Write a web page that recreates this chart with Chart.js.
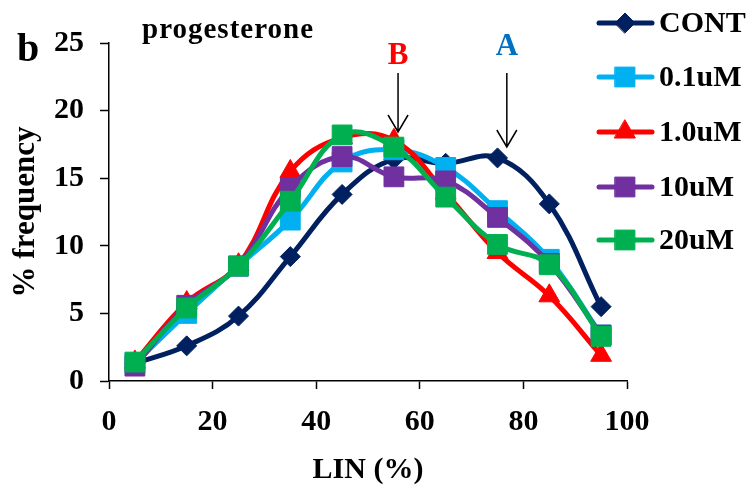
<!DOCTYPE html>
<html>
<head>
<meta charset="utf-8">
<script src="https://cdn.jsdelivr.net/npm/chart.js@4.4.1/dist/chart.umd.min.js"></script>
<style>
html,body{margin:0;padding:0;background:#fff;}
#wrap{width:754px;height:488px;}
</style>
</head>
<body>
<div id="wrap"><canvas id="c" width="754" height="488"></canvas></div>
<script>
// ---- data ----
const lin = [5, 15, 25, 35, 45, 55, 65, 75, 85, 95];
const cont  = [1.3, 2.6, 4.8, 9.2, 13.8, 16.4, 16.1, 16.5, 13.1, 5.5];
const uM01  = [1.3, 5.0, 8.5, 11.9, 16.2, 17.1, 15.8, 12.6, 9.0, 3.4];
const uM1   = [1.4, 5.8, 8.6, 15.5, 18.0, 17.8, 13.9, 9.5, 6.3, 1.9];
const uM10  = [1.1, 5.6, 8.5, 14.3, 16.6, 15.1, 14.8, 12.1, 8.7, 3.4];
const uM20  = [1.4, 5.4, 8.5, 13.3, 18.2, 17.3, 13.6, 10.1, 8.6, 3.3];
const seriesNames = ['CONT', '0.1uM', '1.0uM', '10uM', '20uM'];
const xTicks = [0, 20, 40, 60, 80, 100];
const yTicks = [0, 5, 10, 15, 20, 25];

const FONT = '"Liberation Serif", "Times New Roman", serif';
const colors = ['#002060', '#00B0F0', '#FF0000', '#7030A0', '#00B050'];
const styles = ['rectRot', 'rect', 'triangle', 'rect', 'rect'];
const radii = [10, 14, 12, 14, 14];
const allSeries = [cont, uM01, uM1, uM10, uM20];

const datasets = allSeries.map((vals, i) => ({
  label: seriesNames[i],
  data: lin.map((x, j) => ({x: x, y: vals[j]})),
  borderColor: colors[i],
  backgroundColor: colors[i],
  borderWidth: 5,
  tension: 0.4,
  pointStyle: styles[i],
  pointRadius: radii[i],
  pointBorderWidth: 1,
  pointBorderColor: colors[i],
  pointBackgroundColor: colors[i],
  order: 4 - i,
  clip: false
}));

const legendPlugin = {
  id: 'customLegend',
  afterDraw(chart) {
    const ctx = chart.ctx;
    const rows = [23, 77, 132, 187, 240];
    ctx.save();
    chart.data.datasets.forEach((ds, i) => {
      const y = rows[i];
      ctx.beginPath();
      ctx.strokeStyle = ds.borderColor;
      ctx.lineWidth = 5;
      ctx.lineCap = 'round';
      ctx.moveTo(599, y);
      ctx.lineTo(652, y);
      ctx.stroke();
      ctx.fillStyle = ds.backgroundColor;
      ctx.strokeStyle = ds.borderColor;
      ctx.lineWidth = 1;
      Chart.helpers.drawPoint(ctx, {pointStyle: ds.pointStyle, radius: ds.pointRadius, rotation: 0, borderWidth: 1}, 625, y);
      ctx.fillStyle = '#000';
      ctx.font = 'bold 30px ' + FONT;
      ctx.textAlign = 'left';
      ctx.textBaseline = 'middle';
      ctx.fillText(ds.label, 659, y + 1);
    });
    ctx.restore();
  }
};

function arrow(ctx, x, y0, y1) {
  ctx.beginPath();
  ctx.moveTo(x, y0);
  ctx.lineTo(x, y1);
  ctx.moveTo(x - 10, y1 - 17);
  ctx.lineTo(x, y1);
  ctx.lineTo(x + 10, y1 - 17);
  ctx.stroke();
}

const notesPlugin = {
  id: 'notes',
  afterDraw(chart) {
    const ctx = chart.ctx;
    const xs = chart.scales.x;
    ctx.save();
    ctx.fillStyle = '#000';
    ctx.textBaseline = 'alphabetic';
    ctx.textAlign = 'left';
    ctx.font = 'bold 40px ' + FONT;
    ctx.fillText('b', 17, 61);
    ctx.font = 'bold 29px ' + FONT;
    try { ctx.letterSpacing = '1px'; } catch (e) {}
    ctx.fillText('progesterone', 142, 38);
    try { ctx.letterSpacing = '0px'; } catch (e) {}
    ctx.textAlign = 'center';
    ctx.textBaseline = 'middle';
    ctx.font = 'bold 31px ' + FONT;
    const bx = xs.getPixelForValue(55.8);
    const ax = xs.getPixelForValue(76.8);
    ctx.fillStyle = '#FF0000';
    ctx.fillText('B', bx, 56);
    ctx.fillStyle = '#0070C0';
    ctx.fillText('A', ax, 47);
    ctx.strokeStyle = '#000';
    ctx.lineWidth = 1.5;
    arrow(ctx, bx, 73, 132);
    arrow(ctx, ax, 73, 147);
    ctx.restore();
  }
};

new Chart(document.getElementById('c'), {
  type: 'line',
  data: {datasets: datasets},
  plugins: [legendPlugin, notesPlugin],
  options: {
    responsive: false,
    animation: false,
    devicePixelRatio: 1,
    layout: {padding: {left: 0, top: 43, right: 127, bottom: 0}},
    plugins: {legend: {display: false}, tooltip: {enabled: false}, title: {display: false}},
    scales: {
      x: {
        type: 'linear',
        min: 0, max: 100,
        afterFit(s) { s.height = 107; },
        afterBuildTicks(s) { s.ticks = xTicks.map(v => ({value: v})); },
        border: {display: true, color: '#000', width: 1.5},
        grid: {display: true, drawOnChartArea: false, drawTicks: true, tickLength: 8, tickColor: '#000', tickWidth: 1.5},
        ticks: {color: '#000', font: {family: FONT, size: 30, weight: 'bold'}, padding: 15, maxRotation: 0},
        title: {display: true, text: 'LIN (%)', color: '#000', font: {family: FONT, size: 30, weight: 'bold'}, padding: {top: 0, bottom: 0}}
      },
      y: {
        type: 'linear',
        min: 0, max: 25,
        afterFit(s) { s.width = 109; },
        afterBuildTicks(s) { s.ticks = yTicks.map(v => ({value: v})); },
        border: {display: true, color: '#000', width: 1.5},
        grid: {display: true, drawOnChartArea: false, drawTicks: true, tickLength: 9, tickColor: '#000', tickWidth: 1.5},
        ticks: {color: '#000', font: {family: FONT, size: 30, weight: 'bold'}, padding: 16},
        title: {display: true, text: '% frequency', color: '#000', font: {family: FONT, size: 31, weight: 'bold'}, padding: {top: 7, bottom: 0}}
      }
    }
  }
});
</script>
</body>
</html>
